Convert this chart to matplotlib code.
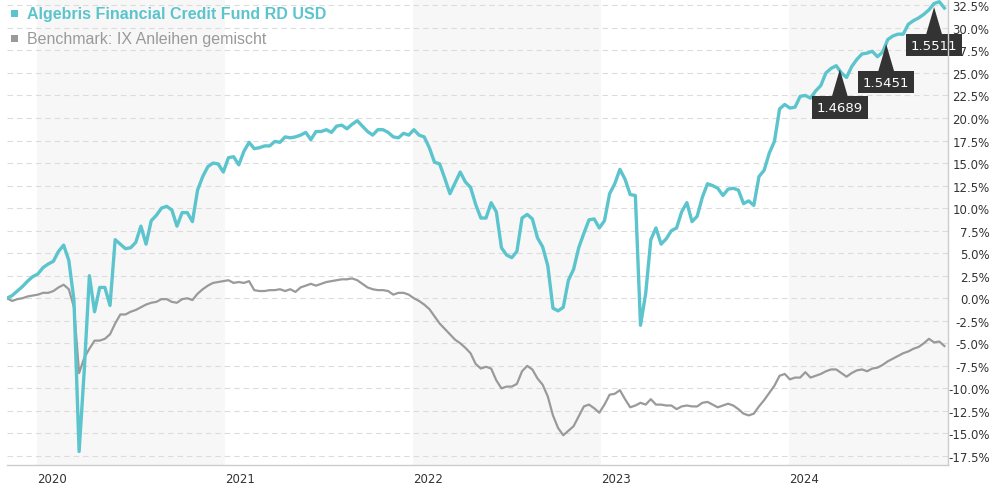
import numpy as np
import pandas as pd
import matplotlib
matplotlib.use('Agg')
import matplotlib.pyplot as plt
from matplotlib.patches import Rectangle

# performance in %, every 10 days
dates = pd.date_range('2019-11-04', periods=183, freq='10D')

fund = [
    0.0, 0.3, 0.8, 1.3, 1.9, 2.4, 2.7, 3.4, 3.8, 4.1,
    5.2, 5.9, 4.2, -0.2, -17.0, -8.0, 2.5, -1.5, 1.2, 1.2,
    -0.8, 6.5, 6.0, 5.5, 5.6, 6.2, 8.0, 6.0, 8.6, 9.2,
    10.0, 10.2, 9.8, 8.0, 9.5, 9.5, 8.5, 12.0, 13.5, 14.6,
    15.0, 14.9, 14.0, 15.6, 15.7, 14.8, 16.3, 17.3, 16.6, 16.7,
    16.9, 16.9, 17.4, 17.3, 17.9, 17.8, 17.9, 18.1, 18.4, 17.6,
    18.5, 18.5, 18.7, 18.4, 19.1, 19.2, 18.8, 19.3, 19.7, 19.1,
    18.5, 18.1, 18.7, 18.7, 18.4, 17.9, 17.8, 18.3, 18.1, 18.7,
    18.1, 17.9, 16.7, 15.1, 14.9, 13.3, 11.6, 12.8, 14.0, 12.9,
    12.3, 10.4, 8.9, 8.9, 10.6, 9.6, 5.6, 4.8, 4.5, 5.2,
    8.9, 9.3, 8.8, 6.7, 5.7, 3.6, -1.1, -1.4, -1.0, 2.0,
    3.2, 5.6, 7.2, 8.7, 8.8, 7.8, 8.6, 11.6, 12.7, 14.3,
    13.2, 11.5, 11.4, -3.0, 0.5, 6.5, 7.8, 6.0, 6.6, 7.5,
    7.8, 9.6, 10.6, 8.5, 9.1, 11.2, 12.7, 12.5, 12.2, 11.4,
    12.1, 12.2, 12.0, 10.5, 10.8, 10.3, 13.5, 14.2, 16.1, 17.4,
    21.0, 21.5, 21.1, 21.2, 22.4, 22.5, 22.2, 23.0, 23.6, 25.0,
    25.5, 25.8, 25.0, 24.5, 25.7, 26.5, 27.1, 27.2, 27.4, 26.8,
    27.3, 28.7, 29.1, 29.3, 29.3, 30.4, 30.8, 31.1, 31.5, 32.0,
    32.7, 32.9, 32.2,
]

bench = [
    0.0, -0.3, -0.1, 0.0, 0.2, 0.3, 0.4, 0.6, 0.6, 0.8,
    1.2, 1.5, 1.0, -1.0, -8.3, -6.6, -5.6, -4.7, -4.7, -4.5,
    -4.0, -2.8, -1.8, -1.8, -1.5, -1.3, -1.0, -0.7, -0.5, -0.4,
    -0.1, -0.1, -0.4, -0.5, -0.1, 0.0, -0.2, 0.5, 1.0, 1.4,
    1.7, 1.8, 1.9, 2.0, 1.7, 1.8, 1.7, 1.9, 0.9, 0.8,
    0.8, 0.9, 0.9, 1.0, 0.8, 1.0, 0.7, 1.2, 1.4, 1.6,
    1.4, 1.6, 1.8, 1.9, 2.0, 2.1, 2.1, 2.2, 2.0, 1.6,
    1.2, 1.0, 0.9, 0.9, 0.8, 0.4, 0.6, 0.6, 0.4, 0.0,
    -0.3, -0.7, -1.2, -2.0, -2.8, -3.4, -4.0, -4.6, -5.0, -5.5,
    -6.1, -7.3, -7.8, -7.6, -7.8, -9.1, -10.0, -9.8, -9.8, -9.5,
    -8.1, -7.5, -7.9, -8.9, -9.6, -10.9, -13.0, -14.4, -15.2, -14.7,
    -14.2, -13.1, -12.0, -11.8, -12.2, -12.7, -11.8, -10.7, -10.6, -10.2,
    -11.2, -12.1, -11.9, -11.6, -11.8, -11.2, -11.8, -11.8, -11.9, -11.9,
    -12.3, -12.0, -11.9, -12.0, -12.0, -11.6, -11.5, -11.8, -12.1, -11.9,
    -11.7, -11.9, -12.3, -12.8, -13.0, -12.8, -12.0, -11.3, -10.5, -9.7,
    -8.6, -8.4, -9.0, -8.8, -8.8, -8.2, -8.8, -8.6, -8.4, -8.1,
    -7.9, -7.9, -8.3, -8.7, -8.3, -8.0, -7.9, -8.1, -7.8, -7.7,
    -7.4, -7.0, -6.7, -6.4, -6.1, -5.9, -5.6, -5.4, -5.0, -4.5,
    -4.9, -4.8, -5.3,
]

fund_name = 'Algebris Financial Credit Fund RD USD'
bench_name = 'Benchmark: IX Anleihen gemischt'

# price flags on the fund line
flag_dates = ['2024-04-08', '2024-07-07', '2024-10-08']
flag_values = [25.4, 28.2, 32.3]
flag_labels = ['1.4689', '1.5451', '1.5511']

y_ticks = np.arange(-17.5, 33.0, 2.5)
years = [2020, 2021, 2022, 2023, 2024]
shaded_years = [2020, 2022, 2024]

TEAL = '#5cc4cc'
GREY = '#9a9a9a'

fig = plt.figure(figsize=(9.9, 4.85), dpi=100)
ax = fig.add_axes([7 / 990, 19 / 485, 941 / 990, 466 / 485])

start, end = pd.Timestamp('2019-11-04'), pd.Timestamp('2024-11-04')
ax.set_xlim(start, end)
ax.set_ylim(-18.5, 33.2)

for yr in shaded_years:
    ax.axvspan(pd.Timestamp(f'{yr}-01-01'), min(pd.Timestamp(f'{yr + 1}-01-01'), end),
               color='#f7f7f7', lw=0, zorder=0)

ax.set_axisbelow(True)
ax.set_yticks(y_ticks)
ax.set_yticklabels([f'{v:.1f}%' for v in y_ticks])
ax.grid(axis='y', color='#dcdcdc', lw=0.8, linestyle=(0, (5, 3.5)))
ax.yaxis.tick_right()
ax.tick_params(axis='y', length=0, pad=30, labelsize=8.5, labelcolor='#333333')
for lbl in ax.get_yticklabels():
    lbl.set_ha('right')

ax.set_xticks([pd.Timestamp(f'{y}-01-01') for y in years])
ax.set_xticklabels([str(y) for y in years])
ax.tick_params(axis='x', length=0, pad=5, labelsize=8.5, labelcolor='#333333')
for lbl in ax.get_xticklabels():
    lbl.set_ha('left')

for side in ['top', 'left']:
    ax.spines[side].set_visible(False)
for side in ['bottom', 'right']:
    ax.spines[side].set_color('#cccccc')
    ax.spines[side].set_linewidth(1)
    ax.spines[side].set_zorder(6)

ax.plot(dates, bench, color=GREY, lw=1.6, zorder=2)
ax.plot(dates, fund, color=TEAL, lw=2.4, zorder=3)

for d, v, t in zip(flag_dates, flag_values, flag_labels):
    ax.annotate(t, xy=(pd.Timestamp(d), v), xytext=(0, -27.5), textcoords='offset points',
                ha='center', va='center', color='white', fontsize=9.5,
                bbox=dict(boxstyle='square,pad=0.35', fc='#333333', ec='none'),
                arrowprops=dict(arrowstyle='wedge,tail_width=1.2,shrink_factor=0.5',
                                fc='#333333', ec='none', shrinkA=0, shrinkB=0),
                zorder=5, annotation_clip=False)

# legend at top left
fig.patches.append(Rectangle((11 / 990, 1 - 18 / 485), 7 / 990, 7 / 485,
                             transform=fig.transFigure, fc=TEAL, ec='none'))
fig.patches.append(Rectangle((11 / 990, 1 - 43 / 485), 7 / 990, 7 / 485,
                             transform=fig.transFigure, fc=GREY, ec='none'))
fig.text(27 / 990, 1 - 14.5 / 485, fund_name, color=TEAL, fontsize=11.5,
         fontweight='bold', family='Liberation Sans', va='center')
fig.text(27 / 990, 1 - 39.5 / 485, bench_name, color=GREY, fontsize=11.5,
         family='Liberation Sans', va='center')

fig.savefig('out.png', dpi=100)
